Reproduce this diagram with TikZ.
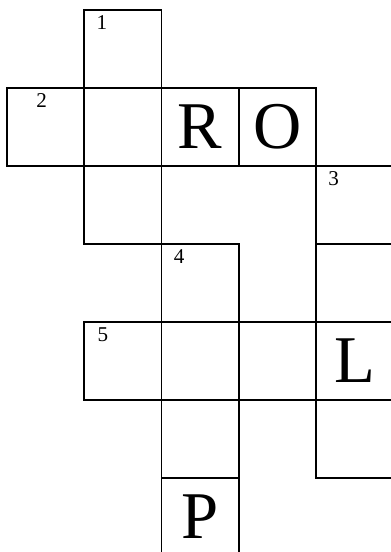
\documentclass[tikz,border=0pt]{standalone}
\usepackage{fontspec}
\setmainfont{Liberation Serif}
\usetikzlibrary{positioning}

\begin{document}
\begin{tikzpicture}[
  x=0.02cm,y=-0.02cm,
  cell/.style={rectangle,draw,line width=0.95pt,minimum width=1.545cm,minimum height=1.56cm,inner sep=0pt,outer sep=0pt,font=\fontsize{38}{38}\selectfont},
  num/.style={anchor=north west,inner sep=0pt,font=\fontsize{12}{12}\selectfont},
  node distance=0pt
]
\useasboundingbox (0,0) rectangle (391,552);
\clip (0,0) rectangle (391,552);
% 2 across
\node[cell] (c10) at (45.6,127) {};
\node[cell,right=of c10] (c11) {};
\node[cell,right=of c11] (c12) {R};
\node[cell,right=of c12] (c13) {O};
% 1 down
\node[cell,above=of c11] (c01) {};
\node[cell,below=of c11] (c21) {};
% 3 down
\node[cell,below right=0pt and 0pt of c13] (c24) {};
\node[cell,below=of c24] (c34) {};
\node[cell,below=of c34] (c44) {L};
\node[cell,below=of c44] (c54) {};
% 5 across
\node[cell,left=of c44] (c43) {};
\node[cell,left=of c43] (c42) {};
\node[cell,left=of c42] (c41) {};
% 4 down
\node[cell,above=of c42] (c32) {};
\node[cell,below=of c42] (c52) {};
\node[cell,below=of c52] (c62) {P};
% clue numbers
\node[num] (n1) at ([shift={(12,5)}]c01.north west) {1};
\node[num] (n2) at ([shift={(29,5)}]c10.north west) {2};
\node[num] (n3) at ([shift={(12,5)}]c24.north west) {3};
\node[num] (n4) at ([shift={(12,5)}]c32.north west) {4};
\node[num] (n5) at ([shift={(13,5)}]c41.north west) {5};
\end{tikzpicture}
\end{document}
